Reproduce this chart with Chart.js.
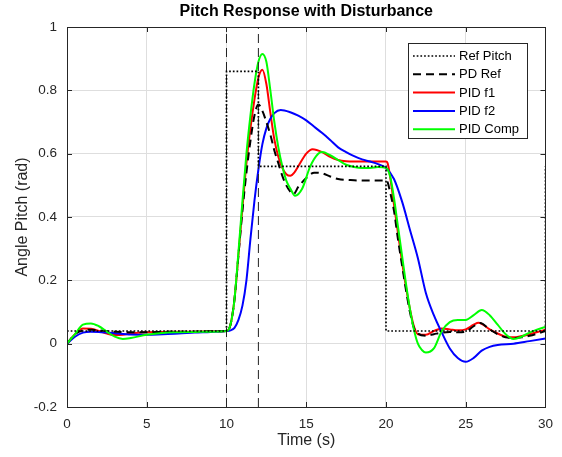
<!DOCTYPE html>
<html><head><meta charset="utf-8">
<script src="https://cdn.jsdelivr.net/npm/chart.js@4.4.1/dist/chart.umd.min.js"></script>
<style>html,body{margin:0;padding:0;background:#fff}</style>
</head><body>
<canvas id="c" width="562" height="457" style="width:562px;height:457px;display:block"></canvas>
<script>
// ---- data ----
const xTicks = [0, 5, 10, 15, 20, 25, 30];
const yTicks = [-0.2, 0, 0.2, 0.4, 0.6, 0.8, 1];
const seriesNames = ["Ref Pitch", "PD Ref", "PID f1", "PID f2", "PID Comp"];
const markerTimes = [10, 12];

const refT = [0, 10, 10, 12, 12, 20, 20, 30, 30];
const refV = [0.04, 0.04, 0.86, 0.86, 0.56, 0.56, 0.04, 0.04, 0.56];

const pdT = [0,0.5,1,1.5,2,3,4,5,6,7,8,9,10,10.25,10.5,10.75,11,11.25,11.5,11.75,12,12.25,12.5,12.75,13,13.25,13.5,13.75,14,14.2,14.5,15,15.5,16,16.5,17,18,19,20,20.1,20.25,20.5,20.75,21,21.25,21.5,21.75,22,22.5,23,23.5,24,24.5,25,25.5,25.9,26.5,27,27.5,28,28.5,29,29.5,30];
const pdV = [0,0.03,0.042,0.044,0.042,0.038,0.036,0.036,0.037,0.038,0.038,0.039,0.04,0.06,0.14,0.28,0.42,0.54,0.64,0.72,0.755,0.735,0.7,0.66,0.61,0.57,0.53,0.5,0.48,0.472,0.495,0.523,0.54,0.538,0.528,0.52,0.516,0.515,0.515,0.51,0.48,0.42,0.33,0.25,0.17,0.1,0.05,0.032,0.025,0.03,0.035,0.037,0.036,0.038,0.055,0.065,0.045,0.03,0.02,0.018,0.02,0.025,0.032,0.04];

const f1T = [0,0.5,1,1.5,2,2.5,3,3.5,4,5,6,7,8,9,10,10.25,10.5,10.75,11,11.25,11.5,11.75,12,12.25,12.5,12.75,13,13.25,13.5,13.75,14,14.25,14.5,15,15.4,16,16.5,17,17.5,18,19,20,20.1,20.25,20.5,20.75,21,21.25,21.5,21.75,22,22.5,23,23.5,24,24.5,25,25.5,25.8,26.5,27,27.5,28,28.5,29,29.5,30];
const f1V = [0,0.03,0.048,0.047,0.04,0.032,0.027,0.028,0.032,0.036,0.037,0.038,0.038,0.039,0.04,0.06,0.14,0.28,0.43,0.57,0.68,0.77,0.84,0.865,0.82,0.73,0.645,0.59,0.555,0.535,0.53,0.54,0.56,0.6,0.614,0.605,0.59,0.58,0.576,0.575,0.575,0.575,0.57,0.53,0.44,0.35,0.26,0.18,0.11,0.055,0.03,0.028,0.04,0.048,0.045,0.042,0.045,0.06,0.066,0.045,0.032,0.022,0.02,0.024,0.03,0.037,0.044];

const f2T = [0,0.5,1,1.5,2,3,4,5,6,7,8,9,10,10.25,10.5,10.75,11,11.25,11.5,11.75,12,12.25,12.5,12.75,13,13.4,14,14.5,15,15.5,16,16.5,17,17.5,18,18.5,19,19.5,20,20.5,21,21.5,22,22.5,23,23.5,24,24.5,25,25.5,26,26.5,27,28,29,30];
const f2V = [0,0.022,0.035,0.038,0.037,0.033,0.029,0.028,0.03,0.032,0.035,0.037,0.04,0.042,0.05,0.075,0.12,0.2,0.33,0.45,0.55,0.63,0.68,0.71,0.728,0.738,0.731,0.72,0.705,0.685,0.665,0.643,0.62,0.605,0.592,0.582,0.575,0.567,0.555,0.52,0.45,0.36,0.27,0.16,0.09,0.035,-0.015,-0.045,-0.057,-0.045,-0.022,-0.01,-0.004,0,0.008,0.016];

const compT = [0,0.5,1,1.5,2,2.5,3,3.5,4,5,6,7,8,9,10,10.25,10.5,10.75,11,11.25,11.5,11.75,12,12.25,12.5,12.75,13,13.25,13.5,13.75,14,14.3,14.75,15.25,15.75,16,16.5,17,17.5,18,18.5,19,19.5,20,20.25,20.5,20.75,21,21.25,21.5,21.75,22,22.25,22.5,23,23.5,24,24.5,25,25.5,26,26.5,27,27.5,28,28.5,29,29.5,30];
const compV = [0,0.03,0.06,0.064,0.055,0.038,0.022,0.015,0.018,0.028,0.034,0.036,0.037,0.038,0.04,0.06,0.14,0.29,0.45,0.6,0.72,0.82,0.89,0.915,0.89,0.8,0.7,0.62,0.56,0.515,0.49,0.467,0.49,0.56,0.6,0.605,0.595,0.58,0.565,0.558,0.555,0.555,0.558,0.555,0.53,0.46,0.37,0.28,0.19,0.11,0.045,0,-0.02,-0.028,-0.015,0.04,0.068,0.075,0.075,0.09,0.106,0.09,0.06,0.03,0.015,0.022,0.035,0.045,0.053];

// ---- chart ----
const FONT = '"Liberation Sans", Arial, Helvetica, sans-serif';
const AX = '#262626';
const pts = (t, v) => t.map((x, i) => ({x: x, y: v[i]}));
const curve = {pointRadius: 0, fill: false, cubicInterpolationMode: 'monotone'};

const datasets = [
  {label: seriesNames[0], data: pts(refT, refV), borderColor: '#000', borderWidth: 1.7, borderDash: [1.7, 2], tension: 0, pointRadius: 0, fill: false},
  {label: '_m1', data: pts([markerTimes[0], markerTimes[0]], [-0.2, 1]), borderColor: '#222', borderWidth: 1, borderDash: [9, 5], tension: 0, pointRadius: 0},
  {label: '_m2', data: pts([markerTimes[1], markerTimes[1]], [-0.2, 1]), borderColor: '#222', borderWidth: 1, borderDash: [9, 5], tension: 0, pointRadius: 0},
  Object.assign({label: seriesNames[4], data: pts(compT, compV), borderColor: '#00ff00', borderWidth: 2}, curve),
  Object.assign({label: seriesNames[1], data: pts(pdT, pdV), borderColor: '#000', borderWidth: 2, borderDash: [8, 5]}, curve),
  Object.assign({label: seriesNames[3], data: pts(f2T, f2V), borderColor: '#0000ff', borderWidth: 2}, curve),
  Object.assign({label: seriesNames[2], data: pts(f1T, f1V), borderColor: '#ff0000', borderWidth: 2}, curve)
];

const framePlugin = {
  id: 'frame',
  afterDraw(chart) {
    const {ctx, chartArea: a, scales} = chart;
    ctx.save();
    ctx.strokeStyle = AX; ctx.lineWidth = 1; ctx.setLineDash([]);
    ctx.strokeRect(Math.round(a.left) + 0.5, Math.round(a.top) + 0.5, Math.round(a.right - a.left), Math.round(a.bottom - a.top));
    const L = 5;
    ctx.beginPath();
    xTicks.forEach(v => {
      const x = Math.round(scales.x.getPixelForValue(v)) + 0.5;
      ctx.moveTo(x, a.bottom); ctx.lineTo(x, a.bottom - L);
      ctx.moveTo(x, a.top); ctx.lineTo(x, a.top + L);
    });
    yTicks.forEach(v => {
      const y = Math.round(scales.y.getPixelForValue(v)) + 0.5;
      ctx.moveTo(a.left, y); ctx.lineTo(a.left + L, y);
      ctx.moveTo(a.right, y); ctx.lineTo(a.right - L, y);
    });
    ctx.stroke();
    // legend
    const bx = 408, by = 43, bw = 119, bh = 95;
    ctx.fillStyle = '#fff';
    ctx.fillRect(bx, by, bw, bh);
    ctx.strokeStyle = AX;
    ctx.strokeRect(bx + 0.5, by + 0.5, bw, bh);
    ctx.font = '13px ' + FONT;
    ctx.textBaseline = 'middle';
    ctx.textAlign = 'left';
    seriesNames.forEach((name, i) => {
      const ds = chart.data.datasets.find(d => d.label === name);
      const y = by + 13 + i * 18.3;
      ctx.strokeStyle = ds.borderColor;
      ctx.lineWidth = ds.borderWidth;
      ctx.setLineDash(ds.borderDash || []);
      ctx.beginPath(); ctx.moveTo(413, y); ctx.lineTo(455, y); ctx.stroke();
      ctx.setLineDash([]);
      ctx.fillStyle = '#000';
      ctx.fillText(name, 459, y + 0.5);
    });
    ctx.restore();
  }
};

new Chart(document.getElementById('c'), {
  type: 'line',
  data: {datasets},
  options: {
    responsive: false, animation: false, devicePixelRatio: 1,
    layout: {padding: {left: 0, right: 16, top: 0, bottom: 0}},
    plugins: {
      legend: {display: false},
      tooltip: {enabled: false},
      title: {display: true, fullSize: false, text: 'Pitch Response with Disturbance', color: '#000',
        font: {family: FONT, size: 16, weight: 'bold', lineHeight: 1.2}, padding: {top: 2, bottom: 5.8}}
    },
    scales: {
      x: {
        type: 'linear', min: 0, max: 30,
        afterFit(s) { s.height = 50; },
        afterBuildTicks(s) { s.ticks = xTicks.map(v => ({value: v})); },
        grid: {color: '#dedede', drawTicks: false},
        border: {display: false},
        ticks: {color: AX, font: {family: FONT, size: 13.5}, padding: 9, maxRotation: 0},
        title: {display: true, text: 'Time (s)', color: AX, font: {family: FONT, size: 16, lineHeight: 1.2}, padding: {top: 0, bottom: 7}}
      },
      y: {
        min: -0.2, max: 1,
        afterFit(s) { s.width = 67; },
        afterBuildTicks(s) { s.ticks = yTicks.map(v => ({value: v})); },
        grid: {color: '#dedede', drawTicks: false},
        border: {display: false},
        ticks: {color: AX, font: {family: FONT, size: 13.5}, padding: 10, callback: v => String(Math.round(v * 10) / 10)},
        title: {display: true, text: 'Angle Pitch (rad)', color: AX, font: {family: FONT, size: 16, lineHeight: 1.2}, padding: {top: 13, bottom: 0}}
      }
    }
  },
  plugins: [framePlugin]
});
</script>
</body></html>
